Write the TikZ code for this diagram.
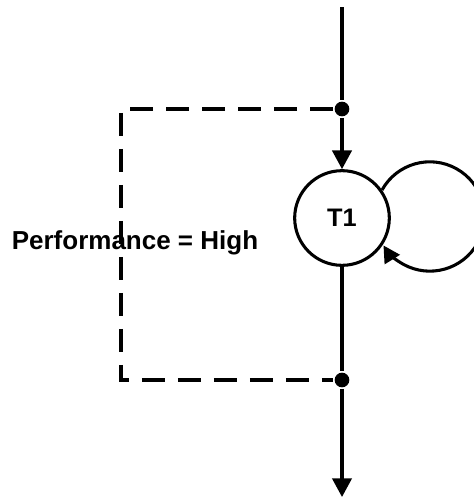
\documentclass[tikz,border=0pt]{standalone}
\usepackage{fontspec}
\setmainfont{Liberation Sans}
\usetikzlibrary{positioning,arrows.meta}

\begin{document}
\begin{tikzpicture}[x=0.75pt,y=-0.75pt,line width=2.3pt,
        state/.style={circle,draw,minimum size=71pt,inner sep=0pt,font=\bfseries\fontsize{19}{22}\selectfont},
        dot/.style={circle,fill,inner sep=0pt,minimum size=11pt},
        arr/.style={-{Triangle[length=14pt,width=14.5pt]}},
        guard/.style={dash pattern=on 17pt off 10pt}]
        \useasboundingbox (0,0) rectangle (474,497);
        \coordinate (top) at (342,7);
        \node [dot] (d1) at (342,109) {};
        \node [state] (t1) at (342,218) {T1};
        \node [dot] (d2) at (342,380) {};
        \coordinate (bot) at (342,497);
        \coordinate (c1) at (121,109);
        \coordinate (c2) at (121,380);
        \node [anchor=base,font=\bfseries\fontsize{19.5}{23}\selectfont] (cond) at (135,249) {Performance = High};

        \draw (top) -- (d1);
        \draw [arr] (d1) -- (t1);
        \draw (t1) -- (d2);
        \draw [arr] (d2) -- (bot);
        \draw [-{Triangle[length=12.5pt,width=13pt]}] (t1.35) arc [start angle=151,end angle=-148,radius=41pt];
        \draw [guard] (d1) -- (c1) -- (c2) -- (d2);
    \end{tikzpicture}
\end{document}
